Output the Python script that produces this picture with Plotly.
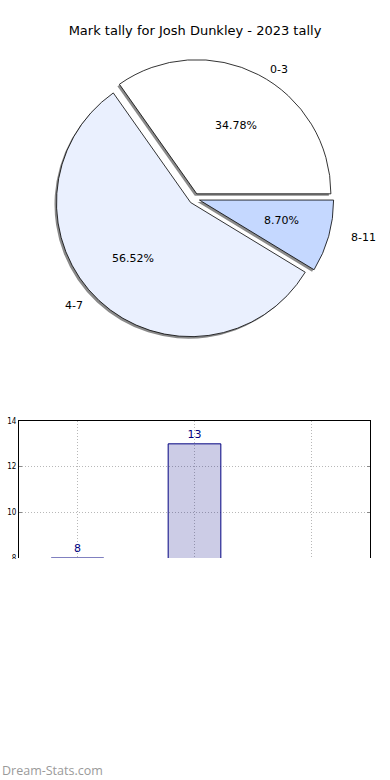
import math
import plotly.graph_objects as go

# ---- data ----
categories = ["0-3", "4-7", "8-11"]
tally = [8, 13, 2]
title_text = "Mark tally for Josh Dunkley - 2023 tally"
y_ticks = [8, 10, 12, 14]
watermark = "Dream-Stats.com"

# ---- style / layout constants ----
W, H = 390, 780
pie_colors = ["#FFFFFF", "#EAF0FE", "#C5D8FF"]
explode = 0.04
cx, cy, half = 194.3, 198.6, 139.5  # pie centre and half box (px)
rx, ry = 141.0, 128.0                # text placement radii (px)
pct_dist, lbl_dist = 0.6, 1.1
sdx, sdy = -2.0, 2.0  # shadow offset (px)


def dom(cx_, cy_, h_):
    return dict(x=[(cx_ - h_) / W, (cx_ + h_) / W],
                y=[1 - (cy_ + h_) / H, 1 - (cy_ - h_) / H])


# slices laid out counter-clockwise from 3 o'clock (matplotlib style):
# plotly draws clockwise, so feed the slices in reverse order
pie_common = dict(labels=categories[::-1], values=tally[::-1], sort=False,
                  direction="clockwise", rotation=90,
                  pull=[explode] * len(tally), showlegend=False)

fig = go.Figure()

# shadow pie
fig.add_trace(go.Pie(
    **pie_common, domain=dom(cx + sdx, cy + sdy, half),
    marker=dict(colors=["#8a8a8a"] * len(tally), line=dict(width=0)),
    textinfo="none", hoverinfo="skip",
))
# main pie
fig.add_trace(go.Pie(
    **pie_common, domain=dom(cx, cy, half),
    marker=dict(colors=pie_colors[::-1], line=dict(color="black", width=0.8)),
    textinfo="none",
))

# text for the pie: percentages inside, labels outside (computed from values)
annotations = []
total = sum(tally)
start = 0.0
for cat, v in zip(categories, tally):
    frac = v / total
    mid = 2 * math.pi * (start + frac / 2)
    start += frac
    c, s = math.cos(mid), math.sin(mid)
    px = cx + (explode + pct_dist) * rx * c
    py = cy - (explode + pct_dist) * ry * s
    annotations.append(dict(text=f"{frac * 100:.2f}%", x=px / W, y=1 - py / H,
                            xref="paper", yref="paper", showarrow=False,
                            xanchor="center", yanchor="middle",
                            font=dict(family="DejaVu Sans", size=11, color="black")))
    lx = cx + (explode + lbl_dist) * rx * c
    ly = cy - (explode + lbl_dist) * ry * s
    annotations.append(dict(text=cat, x=lx / W, y=1 - ly / H,
                            xref="paper", yref="paper", showarrow=False,
                            xanchor="left" if c > 0 else "right", yanchor="middle",
                            font=dict(family="DejaVu Sans", size=11, color="black")))

# bar chart
fig.add_trace(go.Bar(
    x=categories, y=tally, width=0.45,
    marker=dict(color="rgba(0,0,128,0.2)", line=dict(color="#000080", width=1)),
    text=[str(v) for v in tally], textposition="outside",
    textfont=dict(family="DejaVu Sans", size=11, color="#000080"),
    cliponaxis=False, xaxis="x", yaxis="y", showlegend=False,
))

annotations.append(dict(text=watermark, xref="paper", yref="paper", x=0, y=1 - 770 / H,
                        xanchor="left", yanchor="middle", showarrow=False,
                        font=dict(family="Open Sans", size=12.5, color="#9a9a9a")))

plot_top, plot_bot = 421, 558
fig.update_layout(
    width=W, height=H, margin=dict(l=0, r=0, t=0, b=0, autoexpand=False),
    paper_bgcolor="white", plot_bgcolor="white",
    title=dict(text=title_text, x=0.5, xanchor="center", xref="paper",
               y=1 - 30 / H, yref="container", yanchor="middle",
               font=dict(family="DejaVu Sans", size=13, color="black")),
    xaxis=dict(domain=[19 / W, 370 / W], type="category", range=[-0.5, 2.5],
               side="top", showline=True, linecolor="black", linewidth=1, mirror=False,
               showgrid=True, gridcolor="#b8b8b8", griddash="1px,2px", gridwidth=1,
               showticklabels=False, ticks="", zeroline=False, fixedrange=True,
               automargin=False),
    yaxis=dict(domain=[1 - plot_bot / H, 1 - plot_top / H], range=[8, 14],
               tickvals=y_ticks, showline=True, linecolor="black", linewidth=1,
               mirror="ticks", ticks="inside", ticklen=3, tickcolor="#888",
               showgrid=True, gridcolor="#b8b8b8", griddash="1px,2px", gridwidth=1,
               tickfont=dict(family="DejaVu Sans Condensed", size=8, color="black"),
               zeroline=False, fixedrange=True, automargin=False),
    shapes=[dict(type="rect", xref="paper", yref="paper", layer="above",
                 x0=0, x1=1, y0=0, y1=1 - (plot_bot + 1) / H,
                 fillcolor="white", line=dict(width=0))],
    annotations=annotations,
)

fig.write_html("out.html", config={"displayModeBar": False},
               post_script="document.body.style.margin='0';")
